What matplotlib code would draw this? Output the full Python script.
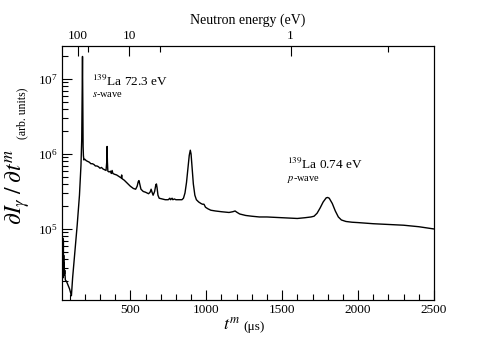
import numpy as np
import matplotlib
matplotlib.use("Agg")
import matplotlib.pyplot as plt
from matplotlib.ticker import LogLocator, MultipleLocator, FixedLocator, NullFormatter

plt.rcParams['font.family'] = ['Liberation Serif', 'DejaVu Serif']
plt.rcParams['mathtext.fontset'] = 'stix'

# ---- data (time-of-flight in microseconds, log10 of intensity) ----
t_us = [50, 52, 53, 54, 55, 56, 57, 58, 59, 60, 61, 62, 64, 66, 68, 72, 80, 90, 100, 108, 112,
        120, 135, 150, 165, 175, 180, 183, 185, 187, 189, 191, 194, 200, 210, 220, 230, 240,
        250, 260, 270, 280, 290, 300, 310, 320, 330, 340, 345, 347, 349, 352, 360, 370, 375,
        380, 385, 395, 410, 425, 440, 443, 446, 460, 480, 500, 520, 535, 545, 552, 557, 562,
        570, 585, 600, 620, 630, 637, 643, 650, 660, 668, 672, 676, 682, 690, 710, 730, 750,
        760, 765, 775, 780, 790, 800, 820, 840, 850, 860, 870, 880, 888, 895, 900, 907, 915,
        925, 935, 950, 965, 975, 985, 995, 1010, 1030, 1060, 1100, 1150, 1175, 1190, 1200,
        1220, 1260, 1300, 1350, 1400, 1450, 1500, 1550, 1600, 1650, 1690, 1710, 1730, 1750,
        1770, 1790, 1800, 1810, 1830, 1850, 1870, 1890, 1920, 1960, 2000, 2100, 2200, 2300,
        2400, 2500]
log_intensity = [4.55, 4.45, 4.80, 4.40, 4.88, 4.50, 4.70, 4.35, 4.85, 4.45, 4.65, 4.38, 4.55,
                 4.40, 4.45, 4.32, 4.30, 4.25, 4.20, 4.14, 4.11,
                 4.35, 4.70, 5.05, 5.45, 5.85, 6.20, 6.80, 7.30, 6.60, 6.10, 5.98, 5.92, 5.93,
                 5.91, 5.90, 5.89, 5.87, 5.87, 5.86, 5.84, 5.84, 5.83, 5.81, 5.82, 5.80, 5.79,
                 5.78, 5.90, 6.10, 5.90, 5.77, 5.76, 5.77, 5.74, 5.78, 5.74, 5.73, 5.72, 5.70,
                 5.68, 5.72, 5.67, 5.65, 5.61, 5.57, 5.54, 5.53, 5.57, 5.63, 5.645, 5.60, 5.53,
                 5.50, 5.49, 5.47, 5.49, 5.53, 5.49, 5.45, 5.50, 5.59, 5.60, 5.55, 5.45, 5.41,
                 5.40, 5.39, 5.39, 5.41, 5.39, 5.41, 5.39, 5.40, 5.39, 5.39, 5.39, 5.41, 5.48,
                 5.62, 5.82, 5.98, 6.05, 6.00, 5.82, 5.60, 5.45, 5.39, 5.36, 5.34, 5.33, 5.33,
                 5.29, 5.27, 5.25, 5.24, 5.23, 5.22, 5.23, 5.24, 5.225, 5.20, 5.18, 5.17, 5.16,
                 5.16, 5.155, 5.15, 5.145, 5.14, 5.15, 5.16, 5.17, 5.21, 5.28, 5.36, 5.415,
                 5.42, 5.41, 5.34, 5.24, 5.16, 5.12, 5.10, 5.09, 5.085, 5.07, 5.06, 5.05, 5.03,
                 5.00]

energy_major = [100, 10, 1]
energy_major_labels = ["100", "10", "1"]
energy_minor = [50, 5, 0.5]
tof_const = 1555.0  # t * sqrt(E), microseconds * sqrt(eV)

intensity = 10.0 ** np.array(log_intensity)

fig = plt.figure(figsize=(4.9, 3.45), dpi=100)
ax = fig.add_axes([62/490, 45/345, (434-62)/490, (300-46)/345])
ax.plot(t_us, intensity, color='black', lw=1.0)
ax.set_yscale('log')
ax.set_xlim(50, 2500)
ax.set_ylim(1.13e4, 2.75e7)

ax.xaxis.set_major_locator(FixedLocator([500, 1000, 1500, 2000, 2500]))
ax.xaxis.set_minor_locator(MultipleLocator(100))
ax.yaxis.set_major_locator(LogLocator(base=10, numticks=10))
ax.yaxis.set_minor_locator(LogLocator(base=10, subs=np.arange(2, 10), numticks=100))
ax.yaxis.set_minor_formatter(NullFormatter())
ax.tick_params(which='both', direction='in', top=False, right=False, labelsize=9.5, pad=3)
ax.tick_params(which='major', length=7, width=0.8)
ax.tick_params(which='minor', length=4, width=0.8)
for s in ax.spines.values():
    s.set_linewidth(0.8)

# top energy axis
ax2 = ax.twiny()
ax2.set_xlim(ax.get_xlim())
ax2.xaxis.set_major_locator(FixedLocator([tof_const/np.sqrt(e) for e in energy_major]))
ax2.set_xticklabels(energy_major_labels)
ax2.xaxis.set_minor_locator(FixedLocator([tof_const/np.sqrt(e) for e in energy_minor]))
ax2.tick_params(which='both', direction='in', labelsize=9.5, pad=3)
ax2.tick_params(which='major', length=7, width=0.8)
ax2.tick_params(which='minor', length=4, width=0.8)
ax2.set_xlabel("Neutron energy (eV)", fontsize=10, labelpad=4)

# axis labels
fig.text(240/490, 1 - 330/345, r"$t^{m}$", fontsize=13, ha='right', va='baseline')
fig.text(243/490, 1 - 330/345, r"(μs)", fontsize=9.5, ha='left', va='baseline')

fig.text(18/490, 1 - 187/345, r"$\partial I_\gamma\;/\;\partial t^{m}$", fontsize=17,
         rotation=90, ha='center', va='center')
fig.text(22/490, 1 - 113/345, "(arb. units)", fontsize=8.5,
         rotation=90, ha='center', va='center')

# annotations
ax.text(250, 8.07e6, r"$^{139}$La 72.3 eV", fontsize=9.5, va='baseline', ha='left')
ax.text(250, 5.7e6, r"$s$-wave", fontsize=7.5, va='baseline', ha='left')
ax.text(1533, 6.3e5, r"$^{139}$La 0.74 eV", fontsize=9.5, va='baseline', ha='left')
ax.text(1533, 4.4e5, r"$p$-wave", fontsize=7.5, va='baseline', ha='left')

fig.savefig("out.png", dpi=100)
